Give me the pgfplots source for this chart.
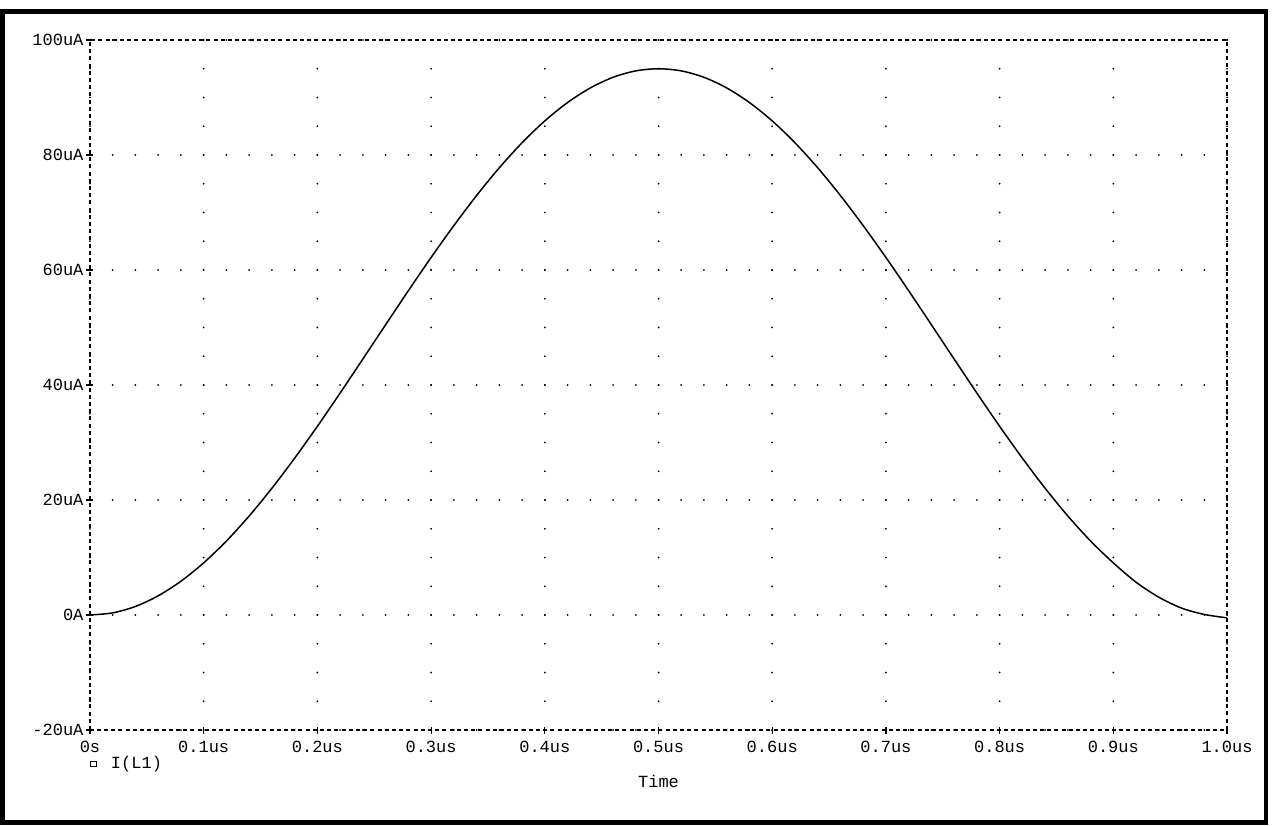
\documentclass[border=0pt]{standalone}
\usepackage{fontspec}
\setmainfont{Liberation Mono}
\usepackage{pgfplots}
\pgfplotsset{compat=1.18}
\begin{document}
\begin{tikzpicture}[x=1pt,y=1pt]
\useasboundingbox (-45,-47.5) rectangle (597,365);
\fill[white] (-45,-47.5) rectangle (597,365);
\draw[black, line width=2.4pt] (-43.8,-46.2) rectangle (588,359.2);
\begin{axis}[
  at={(0,0)}, anchor=south west,
  scale only axis, width=568.5pt, height=345pt,
  xmin=0, xmax=1, ymin=-20, ymax=100,
  xtick={0,0.1,0.2,0.3,0.4,0.5,0.6,0.7,0.8,0.9,1.0},
  xticklabels={0s,0.1us,0.2us,0.3us,0.4us,0.5us,0.6us,0.7us,0.8us,0.9us,1.0us},
  ytick={-20,0,20,40,60,80,100},
  yticklabels={-20uA,0A,20uA,40uA,60uA,80uA,100uA},
  tick pos=left,
  tick align=center,
  major tick length=3.5pt,
  tick style={black, line width=0.6pt, solid},
  grid=major,
  x grid style={black, line width=1pt, line cap=round, dash pattern=on 0pt off 14.375pt},
  y grid style={black, line width=1pt, line cap=round, dash pattern=on 0pt off 11.37pt},
  axis line style={black, line width=0.7pt, dash pattern=on 2pt off 1.6pt},
  ticklabel style={font=\fontsize{8.5}{10}\selectfont, text=black},
  xticklabel style={yshift=-0.5pt},
  yticklabel style={xshift=2pt},
  xlabel={Time},
  xlabel style={font=\fontsize{8.5}{10}\selectfont, at={(axis description cs:0.5,0)}, anchor=center, yshift=-25.5pt},
  legend style={draw=none, fill=none, at={(axis description cs:0,0)}, anchor=north west,
    xshift=0pt, yshift=-11pt, font=\fontsize{8.5}{10}\selectfont, inner sep=0pt},
  legend image code/.code={\draw[black, line width=0.5pt, solid] (0pt,-1.4pt) rectangle (2.8pt,1.4pt);},
]
\addplot[black, line width=0.75pt, smooth] coordinates {
(0.00,0.00) (0.02,0.37) (0.04,1.49) (0.06,3.34) (0.08,5.88) (0.10,9.07)
(0.12,12.87) (0.14,17.22) (0.16,22.05) (0.18,27.28) (0.20,32.82)
(0.22,38.60) (0.24,44.52) (0.26,50.48) (0.28,56.40) (0.30,62.18)
(0.32,67.72) (0.34,72.95) (0.36,77.78) (0.38,82.13) (0.40,85.93)
(0.42,89.12) (0.44,91.66) (0.46,93.51) (0.48,94.63) (0.50,95.00)
(0.52,94.63) (0.54,93.51) (0.56,91.66) (0.58,89.12) (0.60,85.93)
(0.62,82.13) (0.64,77.78) (0.66,72.95) (0.68,67.72) (0.70,62.18)
(0.72,56.40) (0.74,50.48) (0.76,44.52) (0.78,38.60) (0.80,32.82)
(0.82,27.28) (0.84,22.05) (0.86,17.22) (0.88,12.87) (0.90,9.07)
(0.92,5.70) (0.94,3.10) (0.96,1.20) (0.98,0.10) (1.00,-0.50)
};
\addlegendentry{\hspace{5pt}I(L1)}
\end{axis}
\end{tikzpicture}
\end{document}
